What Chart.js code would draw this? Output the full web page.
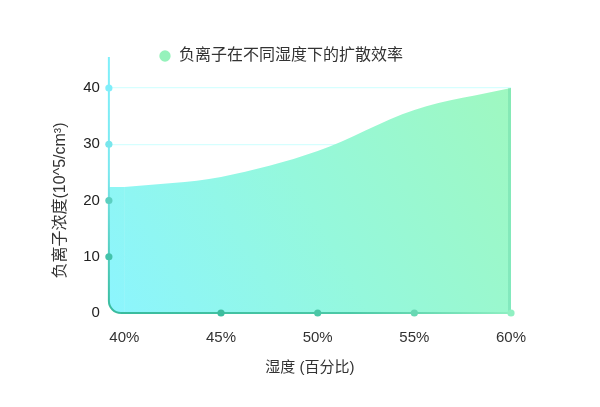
<!DOCTYPE html>
<html>
<head>
<meta charset="utf-8">
<script src="https://cdn.jsdelivr.net/npm/chart.js@4"></script>
<style>
html,body{margin:0;padding:0;background:#fff;}
#wrap{width:600px;height:407px;}
</style>
</head>
<body>
<div id="wrap"><canvas id="c" width="600" height="407"></canvas></div>
<script>
const xLabels = ['40%', '45%', '50%', '55%', '60%'];
const humidity = [40, 45, 50, 55, 60];
const concentration = [22.4, 24.2, 28.8, 36.1, 40];
const yTicks = [0, 10, 20, 30, 40];
const seriesName = '负离子在不同湿度下的扩散效率';
const xTitle = '湿度 (百分比)';
const yTitle = '负离子浓度(10^5/cm³)';

const FONT = "'Liberation Sans', 'Noto Sans CJK SC', sans-serif";
const CORNER = 12;

function fillGradient(ctx, area) {
  const g = ctx.createLinearGradient(area.left, area.bottom, area.right, area.top);
  g.addColorStop(0, '#8cf5fe');
  g.addColorStop(0.5, '#95f8dc');
  g.addColorStop(1, '#9ff8c0');
  return g;
}

function roundedClip(ctx, a) {
  ctx.beginPath();
  ctx.moveTo(a.left, a.top - 40);
  ctx.lineTo(a.right + 4, a.top - 40);
  ctx.lineTo(a.right + 4, a.bottom);
  ctx.lineTo(a.left + CORNER, a.bottom);
  ctx.arcTo(a.left, a.bottom, a.left, a.bottom - CORNER, CORNER);
  ctx.closePath();
  ctx.clip();
}

const legendSpace = {
  id: 'legendSpace',
  afterInit(chart) {
    const lg = chart.legend;
    if (!lg) return;
    const orig = lg.fit;
    lg.fit = function () { orig.call(this); this.height += 14; };
  }
};

const areaPlugin = {
  id: 'areaPlugin',
  beforeDatasetsDraw(chart) {
    const {ctx, chartArea: a, scales: {x, y}} = chart;
    ctx.save();
    roundedClip(ctx, a);
    const x0 = x.getPixelForValue(humidity[0]);
    const y0 = y.getPixelForValue(concentration[0]);
    ctx.fillStyle = fillGradient(ctx, a);
    ctx.fillRect(a.left, y0, x0 - a.left + 0.5, a.bottom - y0);
  },
  afterDatasetsDraw(chart) {
    const {ctx, chartArea: a, scales: {x, y}} = chart;
    const xr = x.getPixelForValue(humidity[humidity.length - 1]);
    const yr = y.getPixelForValue(concentration[concentration.length - 1]);
    ctx.fillStyle = 'rgba(70,195,150,0.28)';
    ctx.fillRect(xr - 3, yr, 3, a.bottom - yr);
    ctx.restore();
  },
  afterDraw(chart) {
    const {ctx, chartArea: a, scales: {x, y}} = chart;
    ctx.save();
    const topY = a.top - 31;
    const gy = ctx.createLinearGradient(0, topY, 0, a.bottom);
    gy.addColorStop(0, '#80f0fb');
    gy.addColorStop(0.45, '#7be8ef');
    gy.addColorStop(1, '#38bb9d');
    ctx.strokeStyle = gy;
    ctx.lineWidth = 2;
    ctx.beginPath();
    ctx.moveTo(a.left, topY);
    ctx.lineTo(a.left, a.bottom - CORNER);
    ctx.arcTo(a.left, a.bottom, a.left + CORNER, a.bottom, CORNER);
    ctx.stroke();
    const gx = ctx.createLinearGradient(a.left, 0, a.right, 0);
    gx.addColorStop(0, '#38bb9d');
    gx.addColorStop(0.6, '#4cc9a6');
    gx.addColorStop(1, '#8eefc2');
    ctx.strokeStyle = gx;
    ctx.beginPath();
    ctx.moveTo(a.left + CORNER - 0.5, a.bottom);
    ctx.lineTo(a.right, a.bottom);
    ctx.stroke();
    yTicks.forEach(v => {
      if (v === 0) return;
      const py = y.getPixelForValue(v);
      const t = (py - topY) / (a.bottom - topY);
      ctx.fillStyle = t < 0.3 ? '#80eefa' : t < 0.5 ? '#78e6ec' : t < 0.7 ? '#5ccfc0' : '#44c2aa';
      ctx.beginPath();
      ctx.arc(a.left, py, 3.6, 0, Math.PI * 2);
      ctx.fill();
    });
    const xc = ['#38bb9d', '#3cbd9e', '#4ac7a6', '#68d8b3', '#90f0c2'];
    humidity.forEach((v, i) => {
      if (i === 0) return;
      const px = x.getPixelForValue(v);
      ctx.fillStyle = xc[i];
      ctx.beginPath();
      ctx.arc(px, a.bottom, 3.6, 0, Math.PI * 2);
      ctx.fill();
    });
    ctx.restore();
  }
};

const ctx = document.getElementById('c').getContext('2d');
new Chart(ctx, {
  type: 'line',
  data: {
    datasets: [{
      label: seriesName,
      data: humidity.map((h, i) => ({x: h, y: concentration[i]})),
      fill: 'origin',
      backgroundColor(c) {
        const a = c.chart.chartArea;
        if (!a) return '#96f7dc';
        return fillGradient(c.chart.ctx, a);
      },
      borderWidth: 0,
      borderColor: 'rgba(0,0,0,0)',
      pointRadius: 0,
      pointHoverRadius: 0,
      pointBackgroundColor: '#95f2bb',
      pointBorderColor: '#95f2bb',
      cubicInterpolationMode: 'monotone'
    }]
  },
  options: {
    responsive: false,
    animation: false,
    devicePixelRatio: 1,
    layout: {padding: {top: 22, left: 51, right: 89, bottom: 30}},
    plugins: {
      legend: {
        position: 'top',
        labels: {
          usePointStyle: true,
          pointStyle: 'circle',
          boxWidth: 12,
          boxHeight: 8,
          padding: 26,
          color: '#333',
          font: {family: FONT, size: 16}
        }
      },
      tooltip: {enabled: false}
    },
    scales: {
      x: {
        type: 'linear',
        min: 39.2,
        max: 60,
        afterBuildTicks(s) { s.ticks = humidity.map(v => ({value: v})); },
        ticks: {
          callback(v, i) { return xLabels[i]; },
          color: '#333',
          font: {family: FONT, size: 15},
          padding: 16,
          maxRotation: 0,
          autoSkip: false
        },
        grid: {display: false, drawTicks: false},
        border: {display: false},
        title: {display: true, text: xTitle, color: '#333', font: {family: FONT, size: 15}, padding: {top: -4, bottom: 0}}
      },
      y: {
        min: 0,
        max: 40,
        z: 1,
        afterBuildTicks(s) { s.ticks = yTicks.map(v => ({value: v})); },
        ticks: {
          color: '#222',
          font: {family: FONT, size: 15},
          padding: 9
        },
        grid: {
          drawTicks: false,
          lineWidth: 1.2,
          color(c) { return c.tick && c.tick.value === 0 ? 'rgba(0,0,0,0)' : 'rgba(200,255,255,0.75)'; }
        },
        border: {display: false},
        title: {display: true, text: yTitle, color: '#333', font: {family: FONT, size: 16}, padding: {top: 0, bottom: 4}}
      }
    }
  },
  plugins: [legendSpace, areaPlugin]
});
</script>
</body>
</html>
